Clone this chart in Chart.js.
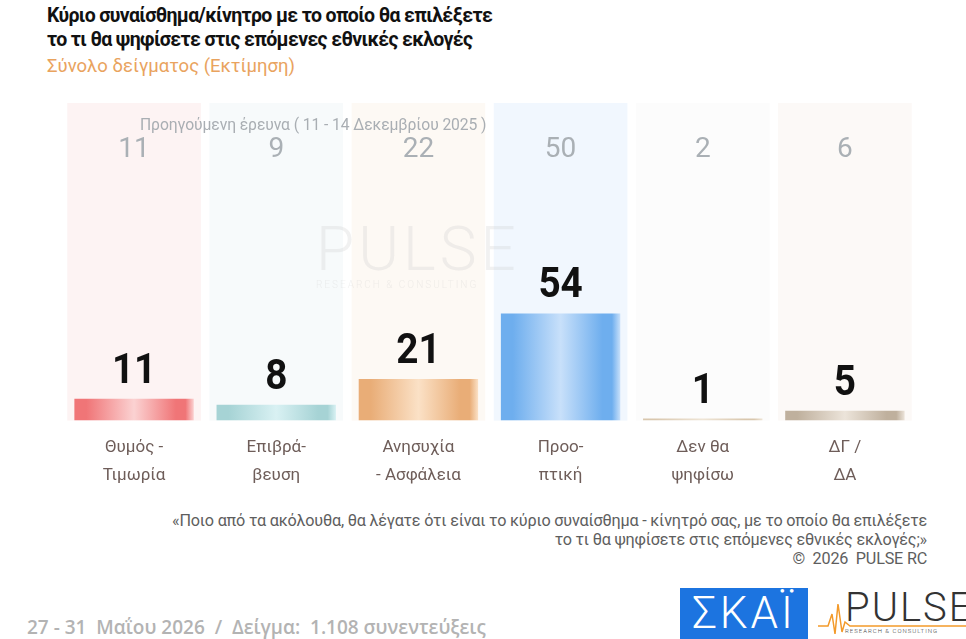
<!DOCTYPE html>
<html lang="el">
<head>
<meta charset="UTF-8">
<title>Κύριο συναίσθημα/κίνητρο</title>
<script src="https://cdn.jsdelivr.net/npm/chart.js"></script>
<style>
    body { margin: 0; width: 966px; height: 639px; background: #fff; font-family: Roboto, "Noto Sans", sans-serif; overflow: hidden; position: relative; }
    .title { position: absolute; left: 47px; top: 4px; font-weight: bold; font-size: 19.5px; line-height: 24px; color: #111; letter-spacing: -0.65px; }
    .subtitle { position: absolute; left: 47px; top: 55px; font-size: 18.5px; color: #e9a35e; }
    #wrap { position: absolute; left: 0; top: 90px; width: 966px; height: 415px; }
    .prev { position: absolute; left: 140px; top: 115px; font-size: 15.7px; color: #a9aeb3; letter-spacing: -0.1px; }
    .question { position: absolute; right: 39px; top: 511px; text-align: right; font-size: 16.2px; line-height: 19px; color: #5e5e5e; letter-spacing: -0.2px; }
    .date { position: absolute; left: 27px; top: 614px; font-size: 19px; color: #b3b3b3; font-weight: 600; font-family: "Open Sans", sans-serif; }
    .skai { position: absolute; left: 680px; top: 588px; width: 128px; height: 51px; background: #1c74e0; color: #fff; font-size: 44px; line-height: 51px; text-align: center; letter-spacing: 3px; font-weight: 300; }
    .pulse { position: absolute; left: 845px; top: 584px; font-size: 40px; color: #333; letter-spacing: 2px; font-weight: 300; }
    .pulse small { display: block; font-size: 6px; letter-spacing: 1px; margin-top: -4px; color: #444; }
    .pulseline { position: absolute; left: 818px; top: 596px; }
    .wm { position: absolute; left: 316px; top: 212px; font-size: 62px; color: rgba(200,200,200,0.25); font-weight: 300; letter-spacing: 4px; pointer-events: none; }
    .wm small { display: block; font-size: 10px; letter-spacing: 2px; margin-top: -6px; }
</style>
</head>
<body>
<div class="title">Κύριο συναίσθημα/κίνητρο με το οποίο θα επιλέξετε<br>το τι θα ψηφίσετε στις επόμενες εθνικές εκλογές</div>
<div class="subtitle">Σύνολο δείγματος (Εκτίμηση)</div>
<div id="wrap"><canvas id="chart"></canvas></div>
<div class="prev">Προηγούμενη έρευνα ( 11 - 14 Δεκεμβρίου 2025 )</div>
<div class="wm">PULSE<small>RESEARCH &amp; CONSULTING</small></div>
<div class="question">«Ποιο από τα ακόλουθα, θα λέγατε ότι είναι το κύριο συναίσθημα - κίνητρό σας, με το οποίο θα επιλέξετε<br>το τι θα ψηφίσετε στις επόμενες εθνικές εκλογές;»<br>©&nbsp; 2026&nbsp; PULSE RC</div>
<div class="date">27 - 31&nbsp; Μαΐου 2026&nbsp; /&nbsp; Δείγμα:&nbsp; 1.108 συνεντεύξεις</div>
<div class="skai">ΣΚΑΪ</div>
<svg class="pulseline" width="148" height="43"><polyline points="0,30 10,30 14,18 17,38 20,8 24,36 27,26 32,30 148,30" fill="none" stroke="#f39a2a" stroke-width="1.5"/></svg>
<div class="pulse">PULSE<small>RESEARCH &amp; CONSULTING</small></div>
<script>
    // data
    const categories = [["Θυμός -", "Τιμωρία"], ["Επιβρά-", "βευση"], ["Ανησυχία", "- Ασφάλεια"], ["Προο-", "πτική"], ["Δεν θα", "ψηφίσω"], ["ΔΓ /", "ΔΑ"]];
    const current = [11, 8, 21, 54, 1, 5];
    const previous = [11, 9, 22, 50, 2, 6];

    // colours: [edge, centre] per bar, and pale column behind
    const barColors = [["#f07577", "#fbd2d2"], ["#a6d3d5", "#d9f1f3"], ["#e9ad77", "#fbe1c6"], ["#6eaeee", "#c8e0fa"], ["#d9c7ae", "#efe5d6"], ["#bfb09d", "#ece4da"]];
    const columnColors = ["#fdf3f3", "#f7fafb", "#fdf9f4", "#f1f7fe", "#fcfcfc", "#fcf9f7"];

    const BAR_PCT = 0.84;

    function barFill(ctx) {
        const chart = ctx.chart;
        const i = ctx.dataIndex;
        const xs = chart.scales.x;
        if (!chart.chartArea || !xs) return barColors[i][0];
        const cx = xs.getPixelForValue(i);
        const half = xs.width / categories.length * BAR_PCT / 2;
        const g = chart.ctx.createLinearGradient(cx - half, 0, cx + half, 0);
        const [edge, mid] = barColors[i];
        g.addColorStop(0, edge);
        g.addColorStop(0.1, edge);
        g.addColorStop(0.5, mid);
        g.addColorStop(0.85, edge);
        g.addColorStop(0.93, edge);
        g.addColorStop(1, mid);
        return g;
    }

    // pale full-height columns with the previous wave's values
    const columnsPlugin = {
        id: 'columns',
        beforeDatasetsDraw(chart) {
            const { ctx, chartArea, scales: { x } } = chart;
            const w = x.width / categories.length * 0.94;
            ctx.save();
            categories.forEach((c, i) => {
                const cx = x.getPixelForValue(i);
                ctx.fillStyle = columnColors[i];
                ctx.fillRect(cx - w / 2, chartArea.top, w, chartArea.bottom - chartArea.top);
                ctx.fillStyle = '#aab0b5';
                ctx.font = '28px Roboto';
                ctx.textAlign = 'center';
                ctx.textBaseline = 'middle';
                ctx.fillText(previous[i], cx, chartArea.top + 47);
            });
            ctx.restore();
        },
        afterDatasetsDraw(chart) {
            const { ctx } = chart;
            const meta = chart.getDatasetMeta(0);
            ctx.save();
            meta.data.forEach((bar, i) => {
                ctx.save();
                ctx.translate(bar.x, bar.y - 16);
                ctx.scale(0.9, 1);
                ctx.fillStyle = '#111';
                ctx.font = 'bold 43px Roboto';
                ctx.textAlign = 'center';
                ctx.textBaseline = 'alphabetic';
                ctx.fillText(current[i], 0, 0);
                ctx.restore();
            });
            ctx.restore();
        }
    };

    new Chart(document.getElementById('chart'), {
        type: 'bar',
        data: {
            labels: categories,
            datasets: [{
                data: current,
                backgroundColor: barFill,
                borderWidth: 0,
                barPercentage: BAR_PCT,
                categoryPercentage: 1.0
            }]
        },
        options: {
            responsive: true,
            maintainAspectRatio: false,
            animation: false,
            layout: { padding: { left: 63, right: 50, top: 13, bottom: 2 } },
            plugins: { legend: { display: false }, tooltip: { enabled: false } },
            scales: {
                x: {
                    grid: { display: false, drawTicks: false },
                    border: { display: false },
                    ticks: { color: '#6e5d59', font: { family: 'Roboto', size: 17, lineHeight: 1.6 }, padding: 14, maxRotation: 0 }
                },
                y: { display: false, min: 0, max: 160 }
            }
        },
        plugins: [columnsPlugin]
    });
</script>
</body>
</html>
